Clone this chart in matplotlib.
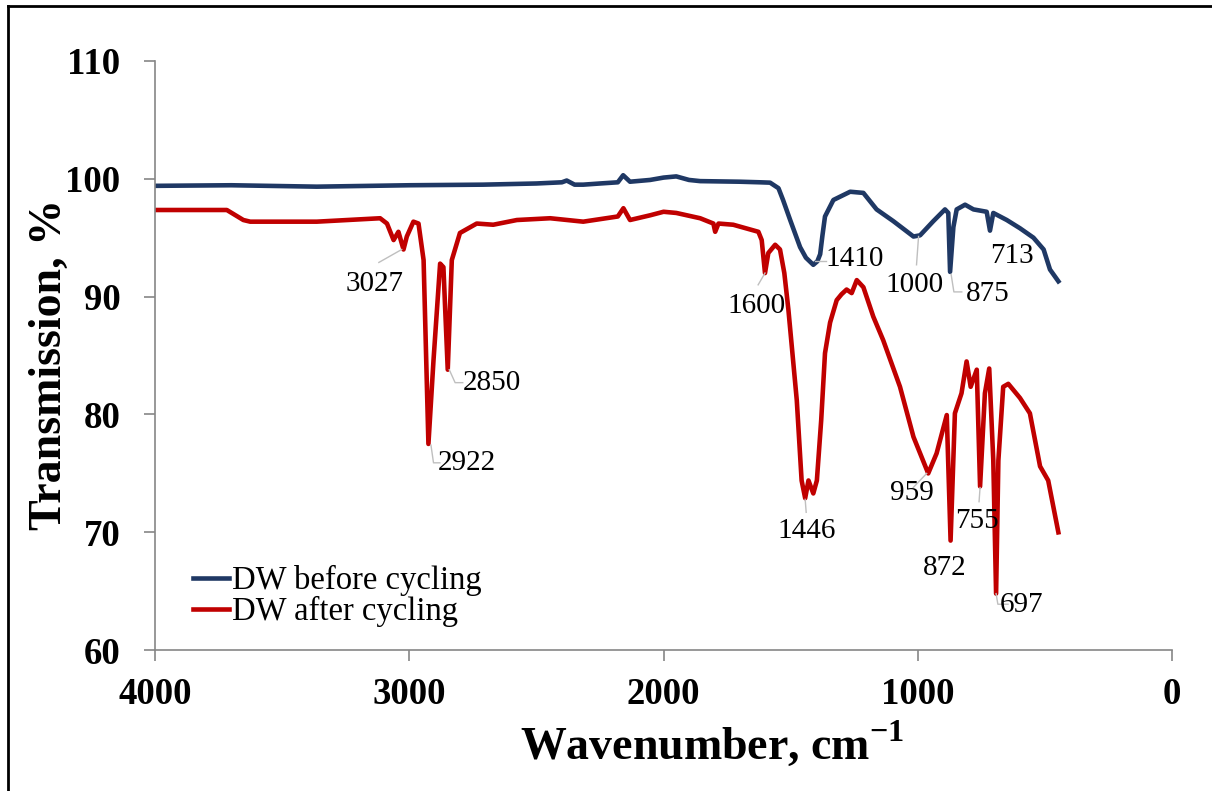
import numpy as np
import matplotlib
matplotlib.use("Agg")
import matplotlib.pyplot as plt
from matplotlib.lines import Line2D

plt.rcParams['font.family'] = ['Liberation Serif', 'DejaVu Serif']
plt.rcParams['mathtext.fontset'] = 'custom'
plt.rcParams['mathtext.rm'] = 'Liberation Serif'
plt.rcParams['mathtext.bf'] = 'Liberation Serif:bold'

# DW before cycling (wavenumber, transmission)
wn_before = [4000, 3700, 3364, 3000, 2710, 2500, 2400, 2381, 2350, 2316, 2250, 2180, 2159, 2132,
             2053, 2000, 1950, 1900, 1856, 1700, 1620, 1581, 1548, 1530, 1502, 1463, 1440, 1411,
             1395, 1384, 1375, 1365, 1332, 1266, 1214, 1162, 1096, 1017, 991, 939, 893, 880, 873,
             860, 847, 814, 781, 729, 716, 703, 650, 598, 545, 505, 480, 447]
tr_before = [99.4, 99.45, 99.33, 99.45, 99.5, 99.6, 99.7, 99.85, 99.5, 99.5, 99.6, 99.7, 100.3, 99.75,
             99.9, 100.1, 100.2, 99.9, 99.8, 99.75, 99.7, 99.67, 99.2, 98.2, 96.5, 94.2, 93.3, 92.7,
             93.0, 93.6, 95.2, 96.8, 98.2, 98.9, 98.8, 97.4, 96.4, 95.1, 95.2, 96.4, 97.4, 97.1, 92.1,
             95.9, 97.4, 97.8, 97.4, 97.2, 95.6, 97.1, 96.5, 95.8, 95.0, 94.0, 92.3, 91.3]

# DW after cycling
wn_after = [4000, 3718, 3653, 3626, 3364, 3115, 3088, 3062, 3043, 3023, 3010, 2984, 2964, 2944,
            2925, 2905, 2879, 2866, 2849, 2833, 2801, 2735, 2670, 2577, 2446, 2316, 2180, 2158,
            2132, 2053, 2000, 1950, 1856, 1804, 1797, 1784, 1726, 1627, 1614, 1601, 1588, 1561,
            1542, 1525, 1509, 1476, 1457, 1443, 1430, 1411, 1397, 1380, 1365, 1345, 1319, 1300,
            1280, 1260, 1240, 1214, 1175, 1136, 1070, 1017, 959, 926, 886, 871, 854, 828, 808,
            792, 768, 755, 736, 719, 703, 692, 683, 664, 644, 598, 559, 519, 487, 447]
tr_after = [97.35, 97.35, 96.5, 96.36, 96.36, 96.65, 96.2, 94.8, 95.5, 94.0, 95.1, 96.36, 96.2, 93.1,
            77.5, 84.6, 92.8, 92.5, 83.8, 93.1, 95.4, 96.2, 96.1, 96.5, 96.65, 96.36, 96.8, 97.5,
            96.5, 96.9, 97.2, 97.1, 96.65, 96.2, 95.5, 96.2, 96.1, 95.5, 94.8, 92.0, 93.7, 94.4,
            94.0, 92.0, 88.9, 81.2, 74.4, 72.9, 74.4, 73.3, 74.4, 79.5, 85.2, 87.8, 89.7, 90.2,
            90.6, 90.3, 91.4, 90.8, 88.3, 86.3, 82.35, 78.1, 75.0, 76.7, 79.95, 69.3, 80.1, 81.8,
            84.5, 82.35, 83.8, 73.9, 81.8, 83.9, 76.1, 64.8, 76.1, 82.35, 82.6, 81.4, 80.1, 75.6,
            74.4, 70.0]

# peak labels: text, text position, leader line points
peak_labels = ["3027", "2850", "2922", "1600", "1410", "1000", "875", "713",
               "1446", "959", "755", "872", "697"]
label_pos = [(3135, 91.1), (2675, 82.7), (2773, 75.9), (1636, 89.2), (1247, 93.2),
             (1011, 91.0), (724, 90.2), (629, 93.45), (1439, 70.1), (1023, 73.3),
             (767, 71.0), (893, 67.0), (590, 63.8)]
leaders = [
    [(3030, 94.0), (3120, 92.9)],
    [(2843, 83.8), (2820, 82.7), (2790, 82.7)],
    [(2915, 77.4), (2905, 75.9), (2880, 75.9)],
    [(1601, 92.0), (1628, 91.0)],
    [(1405, 93.0), (1362, 93.0)],
    [(997, 95.1), (1005, 92.7)],
    [(869, 91.9), (858, 90.4), (827, 90.4)],
    None,
    [(1443, 72.8), (1439, 71.7)],
    [(965, 75.0), (1018, 73.8)],
    [(755, 73.8), (759, 72.6)],
    None,
    [(692, 64.8), (685, 63.9), (645, 63.9)],
]

blue = "#1F3864"
red = "#C00000"

fig = plt.figure(figsize=(12.12, 7.91), dpi=100)
ax = fig.add_axes([0.128, 0.178, 0.839, 0.745])

ax.plot(wn_before, tr_before, color=blue, lw=3.3, solid_joinstyle='round', label="DW before cycling")
ax.plot(wn_after, tr_after, color=red, lw=3.3, solid_joinstyle='round', label="DW after cycling")

for txt, pos, ld in zip(peak_labels, label_pos, leaders):
    if ld is not None:
        xs = [p[0] for p in ld]
        ys = [p[1] for p in ld]
        ax.plot(xs, ys, color="#BFBFBF", lw=1.0)
    ax.text(pos[0], pos[1], txt, fontsize=21, ha='center', va='center')

ax.set_xlim(4000, 0)
ax.set_ylim(60, 110)
ax.set_xticks([4000, 3000, 2000, 1000, 0])
ax.set_yticks([60, 70, 80, 90, 100, 110])

for s in ['top', 'right']:
    ax.spines[s].set_visible(False)
for s in ['left', 'bottom']:
    ax.spines[s].set_color("#868686")
    ax.spines[s].set_linewidth(1.2)
ax.tick_params(direction='out', length=8, width=1.2, color="#868686")
ax.tick_params(axis='y', pad=17)
ax.tick_params(axis='x', pad=11)
for lab in ax.get_xticklabels() + ax.get_yticklabels():
    lab.set_fontsize(26.5)
    lab.set_fontweight('bold')

ax.set_xlabel("Wavenumber, cm$^{\\mathbf{-1}}$", fontsize=33, fontweight='bold')
ax.xaxis.set_label_coords(0.548, -0.118)
ax.set_ylabel("Transmission, %", fontsize=33, fontweight='bold')
ax.yaxis.set_label_coords(-0.083, 0.484)

ax.legend(loc='lower left', bbox_to_anchor=(0.015, 0.0), frameon=False, fontsize=23.5,
          handlelength=1.1, handletextpad=0.1, labelspacing=0.0, borderaxespad=0.3)

# border lines on the left and top of the picture
fig.add_artist(Line2D([0.0066, 0.0066], [0.0, 0.9925], color='black', lw=2, transform=fig.transFigure))
fig.add_artist(Line2D([0.0066, 1.0], [0.9925, 0.9925], color='black', lw=2, transform=fig.transFigure))

fig.savefig("out.png", dpi=100)
